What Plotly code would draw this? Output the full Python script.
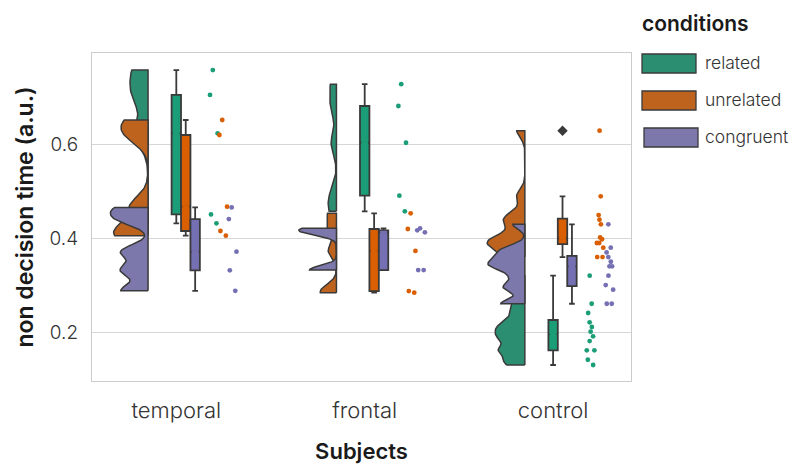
import numpy as np
import plotly.graph_objects as go

categories = ["temporal", "frontal", "control"]
conditions = ["related", "unrelated", "congruent"]

temporal_related = [0.759, 0.706, 0.624, 0.451, 0.432]
temporal_unrelated = [0.6525, 0.6205, 0.4675, 0.4156, 0.4056]
temporal_congruent = [0.466, 0.441, 0.3714, 0.3317, 0.288]

frontal_related = [0.729, 0.6824, 0.604, 0.491, 0.4576]
frontal_unrelated = [0.4534, 0.4199, 0.373, 0.2875, 0.284]
frontal_congruent = [0.4213, 0.417, 0.4128, 0.3323, 0.3323]

control_related = [0.3202, 0.2604, 0.2406, 0.2207, 0.2107, 0.2007,
                   0.1908, 0.1808, 0.161, 0.161, 0.1409, 0.1296]
control_unrelated = [0.6297, 0.4897, 0.4497, 0.4397, 0.4299, 0.402, 0.398,
                     0.39, 0.39, 0.38, 0.36, 0.36]
control_congruent = [0.4299, 0.38, 0.37, 0.36, 0.35, 0.3402, 0.3402, 0.3202,
                     0.3003, 0.2903, 0.2604, 0.2604]

y_ticks = [0.2, 0.4, 0.6]

data = {
    ("temporal", "related"): temporal_related,
    ("temporal", "unrelated"): temporal_unrelated,
    ("temporal", "congruent"): temporal_congruent,
    ("frontal", "related"): frontal_related,
    ("frontal", "unrelated"): frontal_unrelated,
    ("frontal", "congruent"): frontal_congruent,
    ("control", "related"): control_related,
    ("control", "unrelated"): control_unrelated,
    ("control", "congruent"): control_congruent,
}

violin_colors = ["#2b8e70", "#be631d", "#7c78ab"]
box_colors = ["#1b9e77", "#d95f02", "#7570b3"]
edge = "#3a3a3a"

VIOLIN_EDGE = -0.15
VIOLIN_HALF = 0.2
BOX_W = 0.05
BOX_STEP = 0.05
STRIP_SHIFT = 0.2
BW_FACTOR = 0.2
GRIDSIZE = 100

FONT = "Inter"

# figure geometry (pixels)
W, H = 798, 470
ML, MR, MT, MB = 84, 175, 45, 97
PW, PH = W - ML - MR, H - MT - MB


def px_to_paper(fx, fy):
    return (fx - ML) / PW, (MT + PH - fy) / PH


def kde(vals):
    """Gaussian KDE (scipy-style bw factor), evaluated on the data range (cut=0)."""
    v = np.asarray(vals, dtype=float)
    bw = BW_FACTOR * v.std(ddof=1)
    grid = np.linspace(v.min(), v.max(), GRIDSIZE)
    dens = np.exp(-0.5 * ((grid[:, None] - v[None, :]) / bw) ** 2).sum(1)
    dens /= len(v) * bw * np.sqrt(2 * np.pi)
    return grid, dens


fig = go.Figure()

# half violins (clouds); area-scaled within each subject group
for ci, cat in enumerate(categories):
    kdes = [kde(data[(cat, c)]) for c in conditions]
    dmax = max(d.max() for _, d in kdes)
    for hi, cond in enumerate(conditions):
        grid, dens = kdes[hi]
        x_edge = ci + VIOLIN_EDGE
        xs = np.concatenate([[x_edge], x_edge - VIOLIN_HALF * dens / dmax, [x_edge, x_edge]])
        ys = np.concatenate([[grid[0]], grid, [grid[-1], grid[0]]])
        fig.add_trace(go.Scatter(
            x=xs, y=ys, mode="lines", fill="toself",
            fillcolor=violin_colors[hi], line=dict(color=edge, width=1.5),
            name=cond, legendgroup=cond, showlegend=False, hoverinfo="skip",
        ))

# boxes
for ci, cat in enumerate(categories):
    for hi, cond in enumerate(conditions):
        vals = np.asarray(data[(cat, cond)], dtype=float)
        q1, med, q3 = np.percentile(vals, [25, 50, 75])
        iqr = q3 - q1
        lo = vals[vals >= q1 - 1.5 * iqr].min()
        hi_w = vals[vals <= q3 + 1.5 * iqr].max()
        pos = ci + hi * BOX_STEP
        fig.add_trace(go.Box(
            x=[pos], q1=[q1], median=[med], q3=[q3],
            lowerfence=[lo], upperfence=[hi_w],
            width=BOX_W, whiskerwidth=0.6, boxpoints=False,
            fillcolor=box_colors[hi], line=dict(color=edge, width=1.8),
            showlegend=False, legendgroup=cond, name=cond,
        ))
        # hide the median line (reference boxes show none)
        fig.add_trace(go.Scatter(
            x=[pos - BOX_W / 2 + 0.007, pos + BOX_W / 2 - 0.007], y=[med, med],
            mode="lines", line=dict(color=box_colors[hi], width=3),
            showlegend=False, hoverinfo="skip",
        ))
        out = vals[(vals < lo) | (vals > hi_w)]
        if len(out):
            fig.add_trace(go.Scatter(
                x=[pos] * len(out), y=out, mode="markers",
                marker=dict(symbol="diamond", size=8, color=edge),
                showlegend=False, hoverinfo="skip",
            ))

# rain (jittered points)
for ci, cat in enumerate(categories):
    for hi, cond in enumerate(conditions):
        vals = data[(cat, cond)]
        fig.add_trace(go.Box(
            y=vals, x0=ci + hi * BOX_STEP + STRIP_SHIFT, width=BOX_W,
            boxpoints="all", jitter=1, pointpos=0,
            fillcolor="rgba(0,0,0,0)", line=dict(width=0, color="rgba(0,0,0,0)"),
            marker=dict(color=box_colors[hi], size=4.8),
            showlegend=False, name=cond,
        ))

# legend (drawn as swatches + text, like the reference's large patches)
shapes = []
annotations = []
tx, ty = px_to_paper(632, 1)
annotations.append(dict(
    text="conditions", x=tx, y=ty, xref="paper", yref="paper",
    xanchor="left", yanchor="top", showarrow=False,
    font=dict(size=21, color="#1a1a1a", family=FONT, weight=600),
))
swatch_top = [46, 83, 120]
for hi, cond in enumerate(conditions):
    x0, y0 = px_to_paper(634 + (2 if hi == 2 else 0), swatch_top[hi])
    x1, y1 = px_to_paper(688 + (2 if hi == 2 else 0), swatch_top[hi] + 19)
    shapes.append(dict(
        type="rect", xref="paper", yref="paper", x0=x0, x1=x1, y0=y1, y1=y0,
        fillcolor=violin_colors[hi], line=dict(color=edge, width=1.3), layer="above",
    ))
    lx, ly = px_to_paper(695, swatch_top[hi] + 8)
    annotations.append(dict(
        text=cond, x=lx, y=ly, xref="paper", yref="paper",
        xanchor="left", yanchor="middle", showarrow=False,
        font=dict(size=17.5, color="#333333", family=FONT, weight=300),
    ))

fig.update_layout(
    width=W, height=H,
    margin=dict(l=ML, r=MR, t=MT, b=MB, autoexpand=False),
    plot_bgcolor="white", paper_bgcolor="white",
    boxmode="overlay", showlegend=False,
    font=dict(family=FONT, color="#222222"),
    shapes=shapes, annotations=annotations,
)
fig.update_xaxes(
    range=[-0.4475, 2.4135], tickmode="array", tickvals=[0, 1, 2], ticktext=categories,
    showgrid=False, zeroline=False, showline=True, mirror=True,
    linecolor="#cccccc", linewidth=1.2,
    ticks="outside", ticklen=9, tickcolor="rgba(0,0,0,0)",
    tickfont=dict(size=22, color="#333333", weight=300),
    title=dict(text="Subjects", standoff=22, font=dict(size=22, color="#1a1a1a", weight=600)),
    automargin=False,
)
fig.update_yaxes(
    range=[0.0955, 0.7955], tickmode="array", tickvals=y_ticks,
    showgrid=True, gridcolor="#d6d6d6", gridwidth=1.2, zeroline=False,
    showline=True, mirror=True, linecolor="#cccccc", linewidth=1.2,
    ticks="outside", ticklen=9, tickcolor="rgba(0,0,0,0)",
    tickfont=dict(size=19, color="#333333", weight=300),
    title=dict(text="non decision time (a.u.)", standoff=9,
               font=dict(size=23, color="#1a1a1a", weight=600)),
    automargin=False,
)

fig.write_html("out.html")
